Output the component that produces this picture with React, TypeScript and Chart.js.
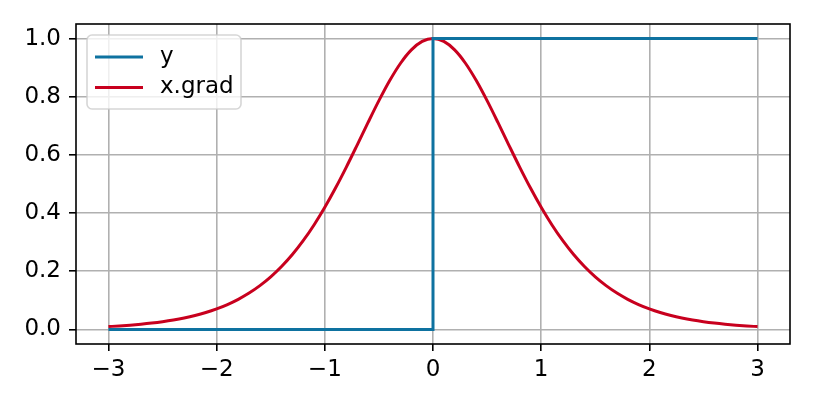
import React, { useEffect, useRef } from "react";
import { Chart, registerables } from "chart.js";

Chart.register(...registerables);

// Step series "y"
const stepX = [-3, 0, 0, 3];
const stepY = [0, 0, 1, 1];

// Smooth series "x.grad"
const gradX = [
  -3.0, -2.9, -2.8, -2.7, -2.6, -2.5, -2.4, -2.3, -2.2, -2.1, -2.0, -1.9, -1.8, -1.7, -1.6, -1.5,
  -1.4, -1.3, -1.2, -1.1, -1.0, -0.9, -0.8, -0.7, -0.6, -0.5, -0.4, -0.3, -0.2, -0.1, 0.0,
  0.1, 0.2, 0.3, 0.4, 0.5, 0.6, 0.7, 0.8, 0.9, 1.0, 1.1, 1.2, 1.3, 1.4, 1.5,
  1.6, 1.7, 1.8, 1.9, 2.0, 2.1, 2.2, 2.3, 2.4, 2.5, 2.6, 2.7, 2.8, 2.9, 3.0,
];
const gradY = [
  0.0099, 0.012, 0.0147, 0.0179, 0.0218, 0.0266, 0.0324, 0.0394, 0.0479, 0.0582, 0.0707, 0.0856,
  0.1036, 0.125, 0.1505, 0.1807, 0.2162, 0.2574, 0.305, 0.3592, 0.42, 0.4869, 0.559, 0.6347,
  0.7116, 0.7864, 0.8556, 0.9151, 0.961, 0.9901, 1.0,
  0.9901, 0.961, 0.9151, 0.8556, 0.7864, 0.7116, 0.6347, 0.559, 0.4869, 0.42, 0.3592, 0.305,
  0.2574, 0.2162, 0.1807, 0.1505, 0.125, 0.1036, 0.0856, 0.0707, 0.0582, 0.0479, 0.0394, 0.0324,
  0.0266, 0.0218, 0.0179, 0.0147, 0.012, 0.0099,
];

const xTicks = [-3, -2, -1, 0, 1, 2, 3];
const yTicks = [0.0, 0.2, 0.4, 0.6, 0.8, 1.0];

const seriesLabels = ["y", "x.grad"];
const seriesColors = ["#0e72a0", "#c8001e"];

const FONT = "'DejaVu Sans', sans-serif";

const fmt = (v: number, d: number) => {
  const s = Math.abs(v).toFixed(d);
  return v < 0 ? "\u2212" + s : s;
};

const framePlugin = {
  id: "frame",
  afterDatasetsDraw(chart: any) {
    const { ctx, chartArea } = chart;
    ctx.save();
    ctx.strokeStyle = "#000";
    ctx.lineWidth = 1.6;
    ctx.strokeRect(chartArea.left, chartArea.top, chartArea.right - chartArea.left, chartArea.bottom - chartArea.top);
    ctx.restore();

    // legend
    const x0 = 87, y0 = 35, w = 154, h = 74, r = 5;
    ctx.save();
    ctx.beginPath();
    ctx.moveTo(x0 + r, y0);
    ctx.arcTo(x0 + w, y0, x0 + w, y0 + h, r);
    ctx.arcTo(x0 + w, y0 + h, x0, y0 + h, r);
    ctx.arcTo(x0, y0 + h, x0, y0, r);
    ctx.arcTo(x0, y0, x0 + w, y0, r);
    ctx.closePath();
    ctx.fillStyle = "rgba(255,255,255,0.8)";
    ctx.fill();
    ctx.strokeStyle = "rgba(204,204,204,0.8)";
    ctx.lineWidth = 1.6;
    ctx.stroke();
    const ds = chart.data.datasets;
    ds.forEach((d: any, i: number) => {
      const cy = 57 + i * 30.5;
      ctx.beginPath();
      ctx.moveTo(95, cy);
      ctx.lineTo(143, cy);
      ctx.strokeStyle = d.borderColor;
      ctx.lineWidth = 3;
      ctx.stroke();
      ctx.fillStyle = "#000";
      ctx.font = `23px ${FONT}`;
      ctx.textBaseline = "middle";
      ctx.textAlign = "left";
      ctx.fillText(d.label, 160, cy);
    });
    ctx.restore();
  },
};

export default function App() {
  const ref = useRef<HTMLCanvasElement | null>(null);
  useEffect(() => {
    document.body.style.margin = "0";
    const canvas = ref.current!;
    const chart = new Chart(canvas, {
      type: "line",
      data: {
        datasets: [
          {
            label: seriesLabels[0],
            data: stepX.map((x, i) => ({ x, y: stepY[i] })),
            borderColor: seriesColors[0],
            borderWidth: 3,
            pointRadius: 0,
            tension: 0,
          },
          {
            label: seriesLabels[1],
            data: gradX.map((x, i) => ({ x, y: gradY[i] })),
            borderColor: seriesColors[1],
            borderWidth: 3,
            pointRadius: 0,
            tension: 0.4,
            cubicInterpolationMode: "monotone",
          },
        ],
      },
      options: {
        animation: false,
        responsive: false,
        devicePixelRatio: 1,
        layout: { padding: { left: 0, top: 24, right: 24, bottom: 0 } },
        plugins: { legend: { display: false }, tooltip: { enabled: false } },
        scales: {
          x: {
            type: "linear",
            min: -3.3,
            max: 3.3,
            afterBuildTicks: (s: any) => {
              s.ticks = xTicks.map((v) => ({ value: v }));
            },
            afterFit: (s: any) => {
              s.height = 63;
            },
            ticks: {
              callback: (v: any) => fmt(Number(v), 0),
              color: "#000",
              font: { family: FONT, size: 23 },
              padding: 5,
              maxRotation: 0,
              autoSkip: false,
            },
            grid: {
              color: "#b0b0b0",
              lineWidth: 1.6,
              tickColor: "#000",
              tickLength: 7,
              tickWidth: 1.6,
            },
            border: { display: false },
          },
          y: {
            type: "linear",
            min: -0.05,
            max: 1.05,
            afterBuildTicks: (s: any) => {
              s.ticks = yTicks.map((v) => ({ value: v }));
            },
            afterFit: (s: any) => {
              s.width = 76;
            },
            ticks: {
              callback: (v: any) => fmt(Number(v), 1),
              color: "#000",
              font: { family: FONT, size: 23 },
              padding: 8,
              autoSkip: false,
            },
            grid: {
              color: "#b0b0b0",
              lineWidth: 1.6,
              tickColor: "#000",
              tickLength: 7,
              tickWidth: 1.6,
            },
            border: { display: false },
          },
        },
      },
      plugins: [framePlugin],
    } as any);
    return () => chart.destroy();
  }, []);
  return (
    <div style={{ width: 814, height: 407, background: "#fff" }}>
      <canvas ref={ref} width={814} height={407} style={{ display: "block" }} />
    </div>
  );
}
